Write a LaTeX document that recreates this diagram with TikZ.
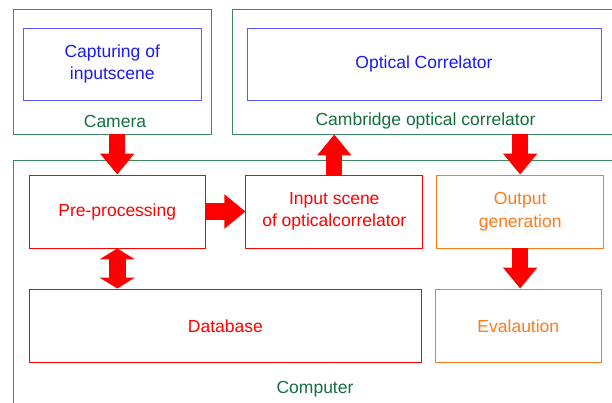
\documentclass[tikz,border=0pt]{standalone}
\usepackage{fontspec}
\setsansfont{Liberation Sans}
\usepackage{xcolor}
\usetikzlibrary{positioning, arrows.meta}

\definecolor{unitgreen}{HTML}{3C8A60}
\definecolor{labelgreen}{HTML}{13703D}
\definecolor{stageblue}{HTML}{5A5AFF}
\definecolor{textblue}{HTML}{1A1AF0}
\definecolor{stageorange}{HTML}{FF7A1A}

\begin{document}
\begin{tikzpicture}[
    x=1pt, y=-1pt,
    every node/.style={font=\sffamily\fontsize{17.5}{22.5}\selectfont},
    unit/.style={draw=unitgreen, line width=0.9pt, inner sep=0pt},
    unitlabel/.style={text=labelgreen},
    stage/.style={draw=stageblue, line width=0.9pt, text=textblue, align=center, inner sep=0pt},
    proc/.style={draw=red, line width=0.9pt, text=red, align=center, inner sep=0pt, minimum height=73pt},
    outproc/.style={proc, draw=stageorange, text=stageorange},
    blockflow/.style={-{Triangle[length=21pt, width=33pt]}, line width=16pt, red},
    dblflow/.style={{Triangle[length=11pt, width=35pt]}-{Triangle[length=11pt, width=35pt]}, line width=17pt, red},
]
    \clip (0,0) rectangle (612,403);

    % outer units
    \node[unit, minimum width=197.5pt, minimum height=125pt] (camera) at (112.25,71.5) {};
    \node[unit, minimum width=388pt, minimum height=125pt] (cambridge) at (426,71.5) {};
    \node[unit, minimum width=606.5pt, minimum height=250pt] (computer) at (316.75,285) {};

    % units labels
    \node[unitlabel] (camlbl) at (115,121) {Camera};
    \node[unitlabel] (camblbl) at (425.5,121) {Cambridge optical correlator};
    \node[unitlabel] (complbl) at (315,389) {Computer};

    % optical stages
    \node[stage, minimum width=177.5pt, minimum height=72pt] (capture) at (112.25,64) {Capturing of\\inputscene};
    \node[stage, minimum width=354pt, minimum height=72pt] (correlator) at (424,64) {Optical Correlator};

    % processing on the computer
    \node[proc, minimum width=176.5pt] (pre) at (117.25,211.5) {Pre-processing};
    \node[proc, minimum width=176.7pt, right=39.5pt of pre] (input) {Input scene\\of opticalcorrelator};
    \node[outproc, minimum width=166.7pt, right=13.3pt of input] (output) {Output\\generation};
    \node[proc, minimum width=392.7pt, minimum height=73.7pt] (database) at (225.35,325.85) {Database};
    \node[outproc, minimum width=166.7pt, minimum height=73.7pt] (eval) at (518.35,325.85) {Evalaution};

    % --- block arrows ---
    \draw[blockflow] (pre.north |- camera.south) -- (pre.north);
    \draw[blockflow] (pre.east) -- (input.west);
    \draw[blockflow] (input.north) -- (input.north |- cambridge.south);
    \draw[blockflow] (output.north |- cambridge.south) -- (output.north);
    \draw[dblflow] (pre.south) -- (pre.south |- database.north);
    \draw[blockflow] (output.south) -- (output.south |- eval.north);

\end{tikzpicture}
\end{document}
